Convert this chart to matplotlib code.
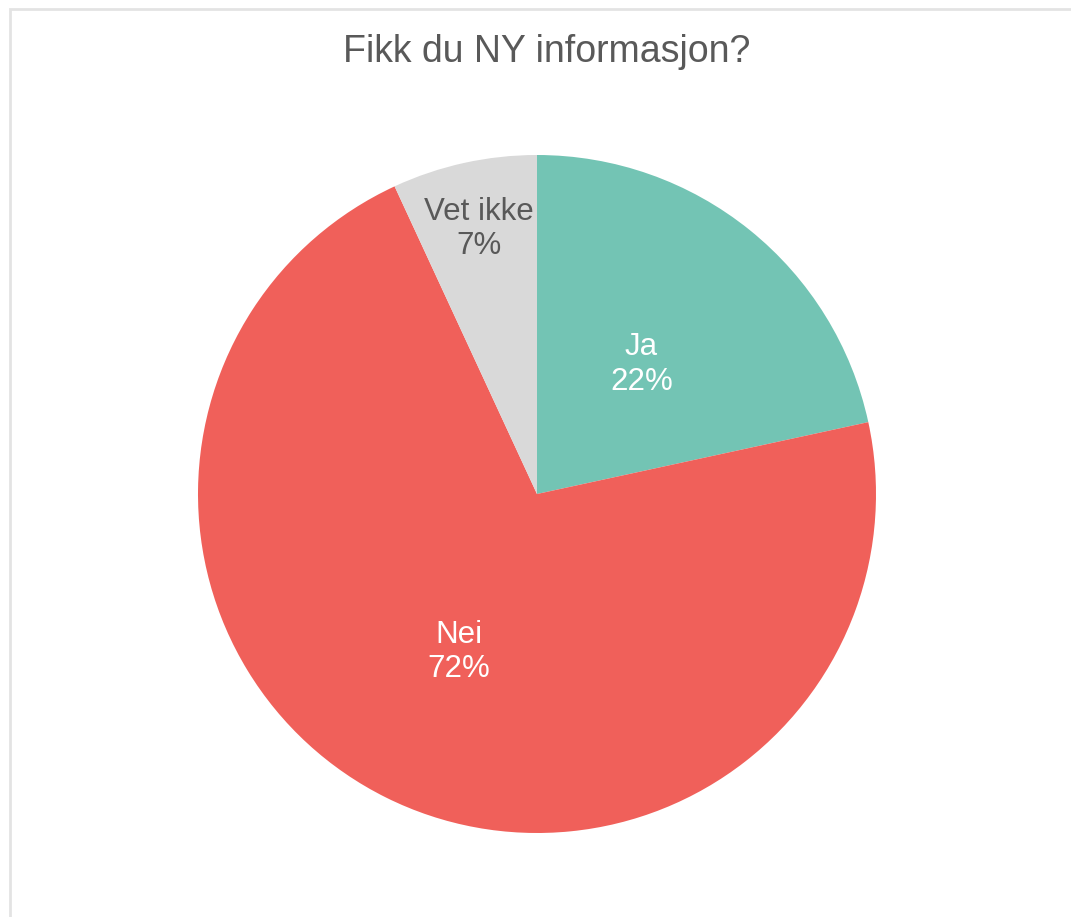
import numpy as np
import matplotlib.pyplot as plt
from matplotlib.patches import Rectangle

# data (shares in percent)
labels = ["Ja", "Nei", "Vet ikke"]
shares = [21.6, 71.5, 6.9]
colors = ["#73C4B4", "#F0605A", "#D9D9D9"]
text_colors = ["white", "white", "#595959"]
label_dist = [0.49, 0.52, 0.80]

plt.rcParams['font.family'] = ['Liberation Sans', 'DejaVu Sans']

W, H = 1071, 917
fig = plt.figure(figsize=(W / 100, H / 100), dpi=100)

# light grey frame (left and top edges visible)
fig.patches.append(Rectangle((10 / W, -0.01), 1.1, (H - 9) / H + 0.01,
                             transform=fig.transFigure, fill=False,
                             edgecolor="#E3E3E3", linewidth=2))

cx, cy, r = 537, 494, 339
ax = fig.add_axes([(cx - r) / W, (H - cy - r) / H, 2 * r / W, 2 * r / H])
wedges, _ = ax.pie(shares, colors=colors, startangle=90, counterclock=False,
                   radius=1, wedgeprops=dict(linewidth=0))
ax.set_xlim(-1, 1)
ax.set_ylim(-1, 1)
ax.set_aspect("equal")
ax.axis("off")

for w, lab, val, tc, d in zip(wedges, labels, shares, text_colors, label_dist):
    ang = np.deg2rad((w.theta1 + w.theta2) / 2)
    ax.text(d * np.cos(ang), d * np.sin(ang), "%s\n%.0f%%" % (lab, val),
            ha="center", va="center", color=tc, fontsize=22.5, linespacing=1.2)

fig.text(547 / W, 1 - 52 / H, "Fikk du NY informasjon?", ha="center", va="center",
         fontsize=27, color="#595959")

fig.savefig("out.png", dpi=100, facecolor="white")
